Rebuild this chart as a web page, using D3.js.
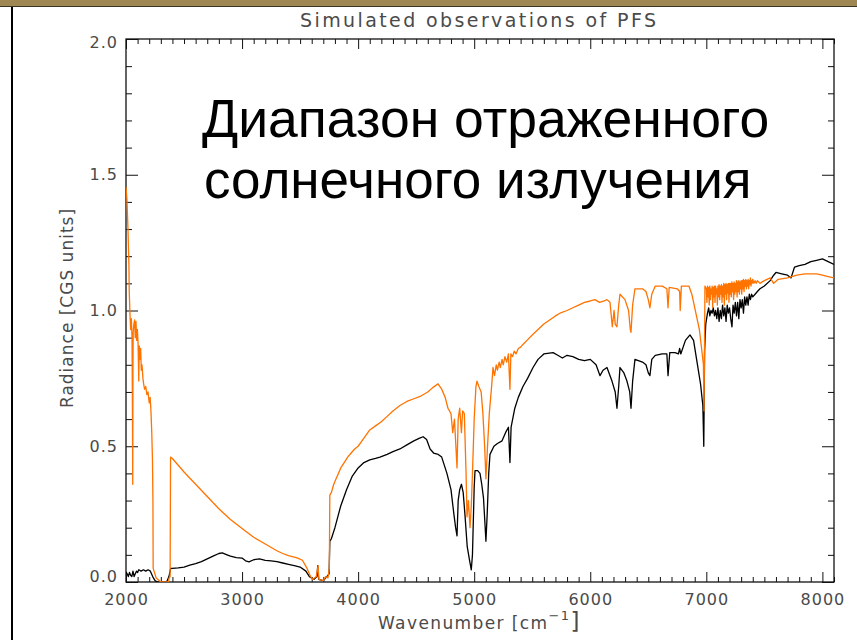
<!DOCTYPE html>
<html>
<head>
<meta charset="utf-8">
<script src="https://cdn.jsdelivr.net/npm/d3@7"></script>
<style>
  html, body { margin: 0; padding: 0; background: #fff; }
  svg { display: block; }
</style>
</head>
<body>
<svg id="chart" width="857" height="640"></svg>
<script>
// Axis tick values
const xMajorTicks = [2000, 3000, 4000, 5000, 6000, 7000, 8000];
const yMajorTicks = [0.0, 0.5, 1.0, 1.5, 2.0];

// Spectrum with reflected solar component: [wavenumber cm^-1, radiance]
const spectrumSolar = [
  [2000,1.455],[2008,1.41],[2017,1.30],[2025,1.17],[2028,1.07],[2034,0.99],[2040,0.93],[2046,0.97],
  [2052,0.90],[2056,0.60],[2058,0.36],[2060,0.80],[2062,0.92],[2068,0.95],[2074,0.965],[2080,0.90],
  [2086,0.96],[2092,0.89],[2098,0.93],[2104,0.88],[2110,0.74],[2114,0.87],[2120,0.82],[2126,0.86],
  [2132,0.78],[2138,0.80],[2146,0.75],[2152,0.73],[2160,0.71],[2170,0.72],[2180,0.69],[2190,0.70],
  [2200,0.66],[2208,0.68],[2215,0.63],[2222,0.55],[2228,0.45],[2232,0.30],[2234,0.05],[2260,0.015],
  [2300,0.0],[2365,0.0],[2372,0.015],[2380,0.02],[2384,0.46],[2400,0.455],[2450,0.43],[2500,0.405],
  [2600,0.36],[2700,0.315],[2800,0.27],[2900,0.23],[3000,0.197],[3100,0.165],[3200,0.14],[3300,0.115],
  [3350,0.105],[3400,0.097],[3450,0.092],[3480,0.088],[3520,0.08],[3560,0.05],[3590,0.02],[3610,0.01],
  [3640,0.02],[3655,0.06],[3662,0.01],[3700,0.005],[3720,0.02],[3740,0.015],[3752,0.05],[3756,0.32],
  [3770,0.33],[3790,0.36],[3810,0.38],[3830,0.40],[3850,0.42],[3880,0.44],[3910,0.46],[3940,0.475],
  [3970,0.49],[4000,0.50],[4050,0.53],[4100,0.56],[4150,0.575],[4200,0.59],[4250,0.61],[4300,0.63],
  [4360,0.65],[4420,0.665],[4480,0.675],[4540,0.685],[4600,0.70],[4640,0.715],[4688,0.73],[4720,0.71],
  [4750,0.68],[4774,0.64],[4800,0.62],[4815,0.55],[4830,0.60],[4852,0.42],[4862,0.60],[4875,0.64],
  [4890,0.55],[4900,0.63],[4915,0.62],[4930,0.40],[4938,0.24],[4950,0.30],[4964,0.20],[4975,0.28],
  [4985,0.40],[5000,0.60],[5015,0.72],[5024,0.74],[5040,0.72],[5060,0.70],[5075,0.62],[5090,0.50],
  [5101,0.38],[5115,0.50],[5130,0.62],[5150,0.72],[5162,0.79],[5175,0.76],[5190,0.80],[5200,0.78],
  [5215,0.81],[5225,0.79],[5240,0.82],[5250,0.80],[5265,0.83],[5280,0.81],[5295,0.84],[5308,0.71],
  [5316,0.84],[5330,0.83],[5345,0.85],[5360,0.84],[5380,0.86],[5400,0.865],[5420,0.875],[5455,0.89],
  [5500,0.91],[5550,0.93],[5600,0.95],[5650,0.965],[5700,0.98],[5739,0.99],[5800,1.00],[5850,1.01],
  [5900,1.02],[5950,1.03],[6000,1.035],[6040,1.04],[6080,1.03],[6120,1.035],[6144,1.04],[6170,1.03],
  [6190,0.94],[6205,1.0],[6215,0.95],[6230,0.94],[6245,1.02],[6256,1.06],[6299,1.04],[6330,1.0],
  [6345,0.93],[6351,0.92],[6365,1.02],[6385,1.08],[6450,1.08],[6480,1.07],[6500,1.04],[6514,1.01],
  [6530,1.06],[6560,1.09],[6620,1.09],[6660,1.08],[6670,1.01],[6680,1.085],[6750,1.08],[6770,1.07],
  [6775,1.0],[6785,1.09],[6850,1.09],[6875,1.06],[6910,0.99],[6940,0.93],[6962,0.85],[6975,0.80],
  [6980,0.63],[6985,0.90],[6988,1.09],
  [7000,1.08],[7005,1.03],[7010,1.09],[7015,1.05],[7020,1.085],[7025,1.02],[7030,1.09],[7035,1.04],
  [7040,1.08],[7045,1.06],[7050,1.09],[7055,1.01],[7060,1.085],[7065,1.05],[7070,1.09],[7075,1.03],
  [7080,1.09],[7085,1.06],[7090,1.08],[7095,1.02],[7100,1.09],[7105,1.05],[7110,1.095],[7115,1.04],
  [7120,1.09],[7125,1.06],[7130,1.095],[7135,1.03],[7140,1.09],[7145,1.05],[7150,1.10],[7155,1.02],
  [7160,1.095],[7165,1.06],[7170,1.10],[7175,1.04],[7180,1.095],[7185,1.065],[7190,1.10],[7195,1.03],
  [7200,1.10],[7205,1.06],[7210,1.10],[7215,1.05],[7220,1.105],[7225,1.07],[7230,1.10],[7235,1.04],
  [7240,1.105],[7245,1.06],[7250,1.10],[7255,1.07],[7260,1.11],[7265,1.05],[7270,1.105],[7275,1.07],
  [7280,1.11],[7285,1.06],[7290,1.105],[7295,1.08],[7300,1.11],[7305,1.06],[7310,1.11],[7315,1.08],
  [7320,1.115],[7325,1.07],[7330,1.11],[7335,1.09],[7340,1.115],[7345,1.08],[7350,1.11],[7355,1.09],
  [7360,1.115],[7365,1.08],[7370,1.11],[7375,1.095],[7380,1.12],[7385,1.09],[7390,1.11],[7395,1.10],
  [7400,1.115],[7410,1.10],[7420,1.11],[7430,1.10],[7440,1.11],[7462,1.10],
  [7500,1.11],[7550,1.12],[7580,1.10],[7620,1.115],[7700,1.12],[7780,1.13],[7850,1.135],[7950,1.135],
  [8000,1.13],[8050,1.125],[8100,1.12]
];

// Thermal-only spectrum: [wavenumber cm^-1, radiance]
const spectrumThermal = [
  [2000,0.037],[2010,0.03],[2020,0.02],[2030,0.035],[2040,0.025],[2050,0.02],[2060,0.04],[2070,0.02],
  [2080,0.03],[2090,0.04],[2100,0.035],[2110,0.045],[2130,0.04],[2150,0.045],[2170,0.04],[2190,0.045],
  [2210,0.04],[2230,0.02],[2250,0.005],[2270,0.0],[2350,0.0],[2370,0.02],[2385,0.05],[2400,0.05],
  [2450,0.052],[2500,0.055],[2550,0.062],[2600,0.068],[2650,0.075],[2700,0.085],[2750,0.095],[2800,0.105],
  [2830,0.107],[2870,0.10],[2900,0.095],[2950,0.09],[3000,0.088],[3030,0.078],[3060,0.074],[3100,0.082],
  [3150,0.085],[3200,0.08],[3250,0.078],[3300,0.075],[3350,0.07],[3400,0.065],[3450,0.06],[3500,0.055],
  [3550,0.04],[3580,0.02],[3620,0.01],[3645,0.02],[3652,0.06],[3660,0.01],[3700,0.005],[3730,0.02],
  [3750,0.03],[3756,0.15],[3770,0.16],[3800,0.20],[3850,0.28],[3900,0.34],[3950,0.39],[4000,0.42],
  [4050,0.44],[4100,0.45],[4150,0.455],[4188,0.46],[4250,0.47],[4300,0.48],[4360,0.49],[4420,0.505],
  [4480,0.52],[4530,0.53],[4560,0.535],[4590,0.525],[4620,0.49],[4650,0.475],[4690,0.47],[4720,0.46],
  [4765,0.40],[4800,0.34],[4825,0.25],[4840,0.20],[4852,0.17],[4862,0.30],[4875,0.34],[4890,0.36],
  [4905,0.33],[4920,0.25],[4940,0.13],[4960,0.08],[4975,0.045],[4985,0.10],[5000,0.35],[5007,0.41],
  [5030,0.41],[5050,0.40],[5065,0.36],[5080,0.31],[5092,0.22],[5101,0.15],[5112,0.25],[5125,0.40],
  [5136,0.47],[5170,0.50],[5200,0.51],[5240,0.52],[5270,0.55],[5295,0.57],[5308,0.44],[5318,0.57],
  [5350,0.64],[5380,0.68],[5420,0.72],[5460,0.75],[5507,0.79],[5550,0.82],[5600,0.84],[5680,0.845],
  [5720,0.835],[5760,0.825],[5800,0.835],[5850,0.83],[5900,0.82],[5950,0.815],[6000,0.82],[6050,0.80],
  [6084,0.76],[6110,0.78],[6144,0.79],[6187,0.74],[6215,0.70],[6230,0.64],[6245,0.72],[6256,0.79],
  [6290,0.77],[6316,0.74],[6340,0.70],[6351,0.64],[6365,0.74],[6385,0.82],[6450,0.81],[6480,0.80],
  [6500,0.77],[6514,0.76],[6530,0.82],[6560,0.835],[6620,0.84],[6660,0.84],[6670,0.76],[6685,0.845],
  [6730,0.845],[6760,0.84],[6770,0.86],[6780,0.84],[6820,0.89],[6859,0.91],[6890,0.89],[6920,0.81],
  [6950,0.73],[6970,0.65],[6978,0.50],[6985,0.85],[6995,0.95],
  [7010,0.99],[7020,1.01],[7030,0.98],[7040,1.0],[7050,0.99],[7060,1.01],[7070,0.98],[7080,1.0],
  [7090,0.97],[7100,1.01],[7110,0.96],[7120,1.0],[7130,0.97],[7140,1.02],[7150,0.98],[7160,1.01],
  [7170,0.96],[7180,1.02],[7190,0.99],[7200,1.01],[7210,0.97],[7221,0.94],[7230,1.02],[7240,0.99],
  [7250,1.03],[7260,0.98],[7270,1.03],[7280,0.97],[7290,1.04],[7300,1.01],[7310,1.04],[7320,0.99],
  [7330,1.05],[7340,1.02],[7350,1.05],[7360,1.02],[7370,1.06],[7380,1.04],[7390,1.06],[7400,1.05],
  [7420,1.06],[7440,1.07],[7462,1.08],
  [7500,1.09],[7550,1.11],[7580,1.13],[7600,1.14],[7650,1.135],[7700,1.13],[7730,1.12],[7760,1.16],
  [7800,1.165],[7850,1.17],[7900,1.18],[7950,1.185],[8000,1.19],[8050,1.18],[8100,1.17]
];

const svg = d3.select("#chart");
const W = 857, H = 640;
const plot = { left: 126, right: 834, top: 39, bottom: 582 };

// slide frame: top band and left rule
svg.append("rect").attr("x", 0).attr("y", 0).attr("width", W).attr("height", 6).attr("fill", "#9f8753");
svg.append("line").attr("x1", 0).attr("x2", W).attr("y1", 6.5).attr("y2", 6.5)
  .attr("stroke", "#3b3222").attr("stroke-width", 1);
svg.append("line").attr("x1", 12).attr("x2", 12).attr("y1", 7).attr("y2", H)
  .attr("stroke", "#000").attr("stroke-width", 2);

const x = d3.scaleLinear().domain([2000, 8100]).range([plot.left, plot.right]);
const y = d3.scaleLinear().domain([0, 2]).range([plot.bottom, plot.top]);

const xMinor = d3.range(2000, 8101, 100).filter(v => !xMajorTicks.includes(v));
const yMinor = d3.range(0, 21).map(i => i / 10).filter(v => !yMajorTicks.some(t => Math.abs(t - v) < 1e-9));

const tickFont = "'DejaVu Sans', 'Liberation Sans', sans-serif";
const labelColor = "#4a4a4a";

function styleAxis(g) {
  g.select(".domain").remove();
  g.selectAll(".tick line").attr("stroke", "#111").attr("stroke-width", 1);
  g.selectAll(".tick text").attr("fill", labelColor)
    .attr("font-family", tickFont).attr("font-size", 16).attr("letter-spacing", 1);
}

// minor ticks on all four sides
svg.append("g").attr("transform", `translate(0,${plot.bottom})`)
  .call(d3.axisBottom(x).tickValues(xMinor).tickSize(-5).tickFormat(""))
  .call(styleAxis);
svg.append("g").attr("transform", `translate(0,${plot.top})`)
  .call(d3.axisTop(x).tickValues(xMinor).tickSize(-5).tickFormat(""))
  .call(styleAxis);
svg.append("g").attr("transform", `translate(${plot.left},0)`)
  .call(d3.axisLeft(y).tickValues(yMinor).tickSize(-6).tickFormat(""))
  .call(styleAxis);
svg.append("g").attr("transform", `translate(${plot.right},0)`)
  .call(d3.axisRight(y).tickValues(yMinor).tickSize(-6).tickFormat(""))
  .call(styleAxis);

// major ticks with labels
svg.append("g").attr("transform", `translate(0,${plot.bottom})`)
  .call(d3.axisBottom(x).tickValues(xMajorTicks).tickSize(-10).tickPadding(12).tickFormat(d3.format("d")))
  .call(styleAxis);
svg.append("g").attr("transform", `translate(0,${plot.top})`)
  .call(d3.axisTop(x).tickValues(xMajorTicks).tickSize(-10).tickFormat(""))
  .call(styleAxis);
const yAxisLeft = svg.append("g").attr("transform", `translate(${plot.left},0)`)
  .call(d3.axisLeft(y).tickValues(yMajorTicks).tickSize(-12).tickPadding(8).tickFormat(d3.format(".1f")))
  .call(styleAxis);
// end labels sit slightly inward from the box corners
yAxisLeft.selectAll(".tick text").attr("dy", d => d === 0 ? "-0.05em" : d === 2 ? "0.55em" : "0.32em");
svg.append("g").attr("transform", `translate(${plot.right},0)`)
  .call(d3.axisRight(y).tickValues(yMajorTicks).tickSize(-12).tickFormat(""))
  .call(styleAxis);

// plot box
svg.append("rect")
  .attr("x", plot.left).attr("y", plot.top)
  .attr("width", plot.right - plot.left).attr("height", plot.bottom - plot.top)
  .attr("fill", "none").attr("stroke", "#111").attr("stroke-width", 1.3);

// spectra
svg.append("clipPath").attr("id", "plotClip").append("rect")
  .attr("x", plot.left).attr("y", plot.top)
  .attr("width", plot.right - plot.left).attr("height", plot.bottom - plot.top);

const line = d3.line().x(d => x(d[0])).y(d => y(d[1]));
const lines = svg.append("g").attr("clip-path", "url(#plotClip)");
lines.append("path").datum(spectrumThermal)
  .attr("d", line).attr("fill", "none").attr("stroke", "#000").attr("stroke-width", 1.3)
  .attr("stroke-linejoin", "round");
lines.append("path").datum(spectrumSolar)
  .attr("d", line).attr("fill", "none").attr("stroke", "#ff7300").attr("stroke-width", 1.3)
  .attr("stroke-linejoin", "round");

// title
svg.append("text")
  .attr("x", 478).attr("y", 27).attr("text-anchor", "middle")
  .attr("font-family", tickFont).attr("font-size", 19).attr("fill", labelColor)
  .attr("textLength", 356).attr("lengthAdjust", "spacing")
  .text("Simulated observations of PFS");

// x axis title
const xt = svg.append("text")
  .attr("x", 378).attr("y", 629)
  .attr("font-family", tickFont).attr("font-size", 17).attr("fill", labelColor)
  .attr("letter-spacing", 1.4);
xt.append("tspan").text("Wavenumber [cm");
xt.append("tspan").attr("dy", -9).attr("font-size", 13).text("−1");
xt.append("tspan").attr("dy", 9).attr("font-size", 23).text("]");

// y axis title
svg.append("text")
  .attr("transform", "translate(73,308) rotate(-90)")
  .attr("text-anchor", "middle")
  .attr("font-family", tickFont).attr("font-size", 17).attr("fill", labelColor)
  .attr("letter-spacing", 1)
  .text("Radiance [CGS units]");

// overlay caption
const caption = svg.append("text")
  .attr("font-family", "'Liberation Sans', Arial, sans-serif")
  .attr("fill", "#000");
caption.append("tspan").attr("x", 202).attr("y", 137).attr("font-size", 53.5).text("Диапазон отраженного");
caption.append("tspan").attr("x", 204).attr("y", 198).attr("font-size", 53).text("солнечного излучения");
</script>
</body>
</html>
